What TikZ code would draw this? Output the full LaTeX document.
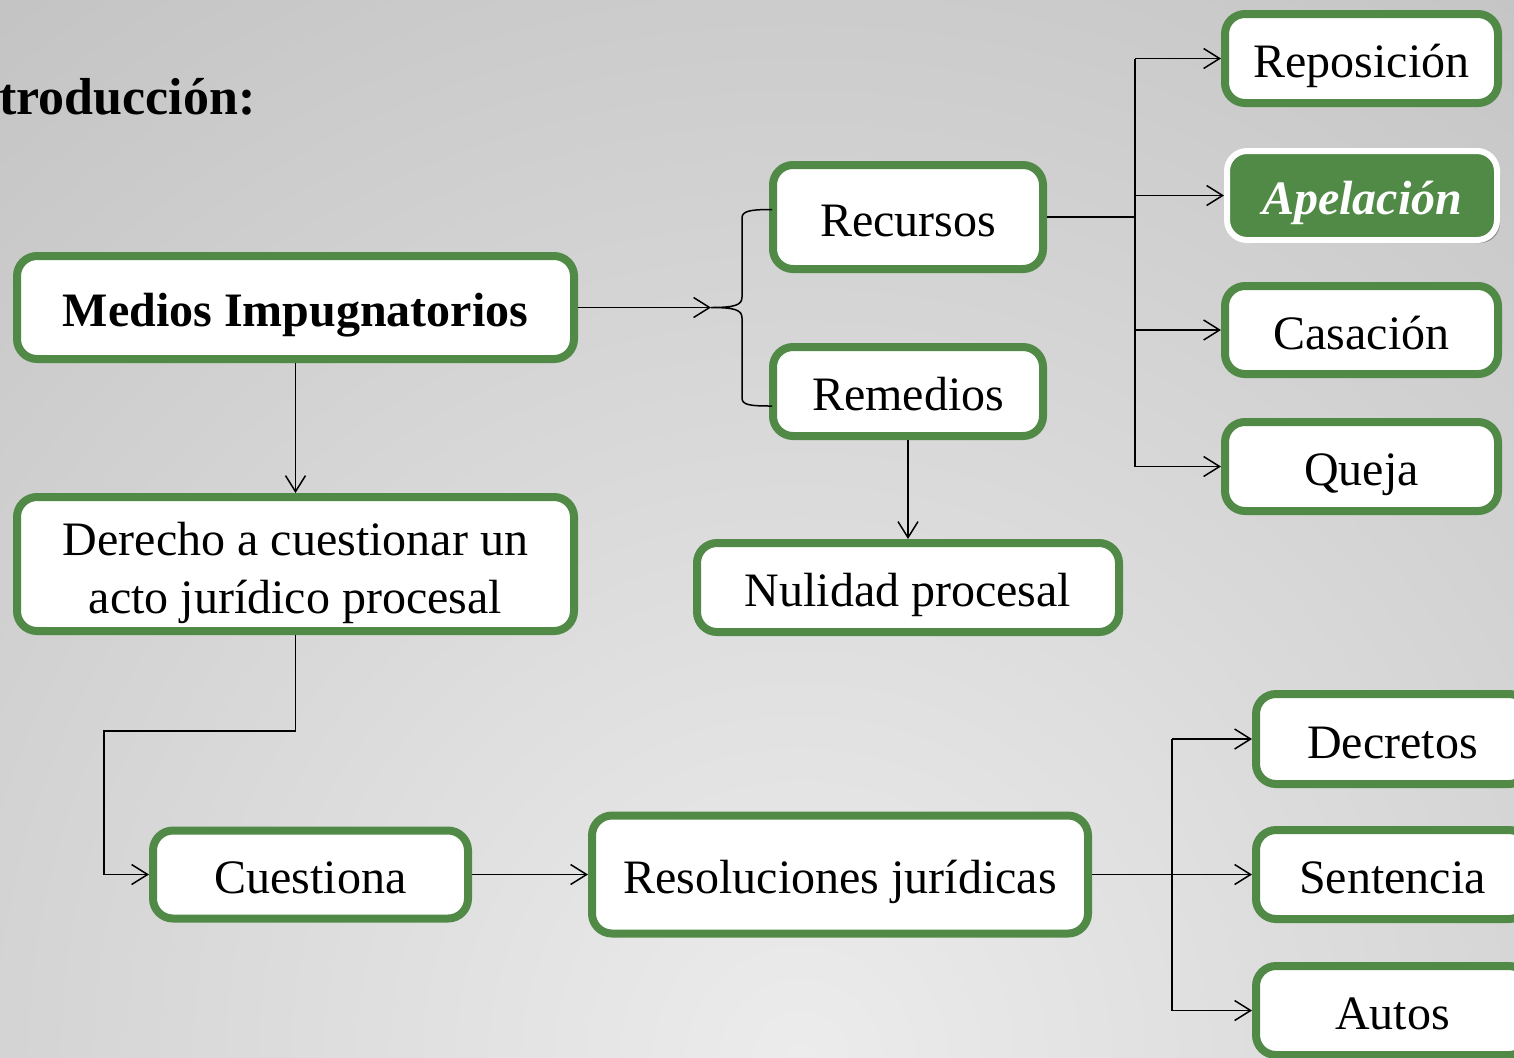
\documentclass[tikz,border=0pt]{standalone}
\usepackage{fontspec}
\setmainfont{Liberation Serif}
\usetikzlibrary{arrows.meta,shadows}
\definecolor{gr}{RGB}{80,138,70}
\definecolor{bgin}{RGB}{236,236,236}
\definecolor{bgout}{RGB}{166,166,166}
\begin{document}
\begin{tikzpicture}[x=0.5pt,y=-0.5pt,
  box/.style={draw=gr,line width=4pt,fill=white,rounded corners=10pt,inner sep=0pt,align=center,
    font=\fontsize{24}{29}\selectfont,text height=22pt,text depth=2.6pt},
  wide/.style={minimum width=136.5pt,minimum height=44.5pt},
  conn/.style={line width=0.75pt,draw=black},
  arr/.style={conn,-{Straight Barb[length=8pt,width=10pt]}}]
\useasboundingbox (0,0) rectangle (1514,1057);
\clip (0,0) rectangle (1514,1057);
\shade[inner color=bgin,outer color=bgout] (800,1060) circle (2300);

% title
\node[font=\fontsize{26}{31}\selectfont\bfseries,anchor=base east,inner sep=0pt] (title) at (256,114) {Introducción:};

% left column
\node[box,font=\fontsize{24}{29}\selectfont\bfseries,minimum width=278.5pt,minimum height=51.5pt] (med) at (295.5,307.5) {Medios Impugnatorios};
\node[box,minimum width=278.5pt,minimum height=67pt,text height=51pt,text depth=2pt] (der) at (295.5,564) {Derecho a cuestionar un\\acto jurídico procesal};
\node[box,minimum width=157.5pt,minimum height=44pt] (cue) at (310.5,874.5) {Cuestiona};
\node[box,minimum width=248pt,minimum height=59pt] (res) at (840,874.5) {Resoluciones jurídicas};

% middle
\node[box,minimum width=135pt,minimum height=52pt] (rec) at (908,217) {Recursos};
\node[box,minimum width=135pt,minimum height=44.5pt] (rem) at (908,391.5) {Remedios};
\node[box,minimum width=211pt,minimum height=44.5pt] (nul) at (908,587.5) {Nulidad procesal};

% right top
\node[box,wide] (rep) at (1361.5,58.5) {Reposición};
\node[box,fill=gr,draw=white,line width=3pt,text=white,minimum width=135pt,minimum height=44.5pt,
  font=\fontsize{24}{29}\selectfont\bfseries\itshape,
  drop shadow={shadow xshift=1.5pt,shadow yshift=-1.5pt,opacity=0.3,fill=black}] (ape) at (1362,195.5) {Apelación};
\node[box,wide,minimum height=44pt] (cas) at (1361.5,330) {Casación};
\node[box,wide] (que) at (1361.5,466.5) {Queja};

% right bottom
\node[box,wide,minimum height=45pt] (dec) at (1392.5,739) {Decretos};
\node[box,wide] (sen) at (1392.5,874.5) {Sentencia};
\node[box,wide] (aut) at (1392.5,1010.5) {Autos};

% connectors
\coordinate (bt) at (711,307.5);
\draw[arr] (med.east) -- (bt);
\draw[conn] (772,209.5) .. controls (750,209.5) and (742,211) .. (742,218) -- (742,297)
  .. controls (742,305) and (735,307.5) .. (bt)
  .. controls (735,307.5) and (742,310) .. (742,318) -- (742,398)
  .. controls (742,405) and (750,406) .. (772,406);

\draw[arr] (med.south) -- (der.north);
\coordinate (k1) at (104,731);
\draw[arr] (der.south) |- (k1) |- (cue.west);
\draw[arr] (cue.east) -- (res.west);

\coordinate (j2) at (1172,874.5);
\draw[arr] (res.east) -- (sen.west);
\draw[conn] (j2 |- dec.west) -- (j2 |- aut.west);
\draw[arr] (j2 |- dec.west) -- (dec.west);
\draw[arr] (j2 |- aut.west) -- (aut.west);

\coordinate (j1) at (1135,217);
\draw[line width=1.25pt] (rec.east) -- (j1);
\draw[conn] (j1 |- rep.west) -- (j1 |- que.west);
\draw[arr] (j1 |- rep.west) -- (rep.west);
\draw[arr] (j1 |- ape.west) -- (ape.west);
\draw[arr] (j1 |- cas.west) -- (cas.west);
\draw[arr] (j1 |- que.west) -- (que.west);

\draw[arr] (rem.south) -- (nul.north);
\end{tikzpicture}
\end{document}
